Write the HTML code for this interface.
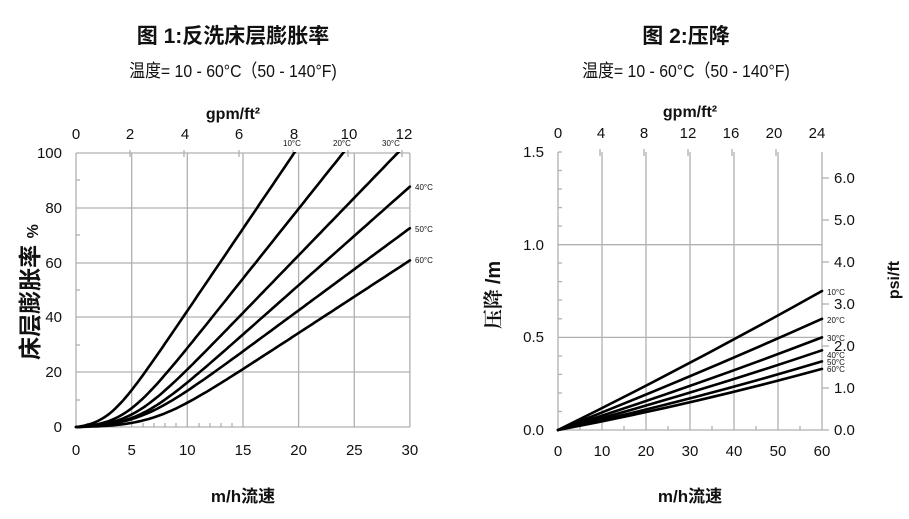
<!DOCTYPE html>
<html><head><meta charset="utf-8"><style>
body{margin:0;background:#fff}
svg{display:block}
text{font-family:"Liberation Sans","Noto Sans CJK SC",sans-serif;fill:#111}
.t{font-size:15px;fill:#222}
.s{font-size:8px;fill:#222}
.c{fill:none;stroke:#000;stroke-width:2.6;stroke-linejoin:round;stroke-linecap:round}
.g{stroke:#b0b0b0;stroke-width:1.3}
</style></head><body>
<svg width="909" height="519" viewBox="0 0 909 519">
<defs><clipPath id="cp"><rect x="70" y="152" width="345" height="280"/></clipPath></defs>
<text x="233" y="43" font-size="21" font-weight="bold" text-anchor="middle">图 1:反洗床层膨胀率</text>
<text x="233" y="77" font-size="18" text-anchor="middle" transform="translate(233 0) scale(0.88 1) translate(-233 0)">温度= 10 - 60°C（50 - 140°F)</text>
<text x="686" y="43" font-size="21" font-weight="bold" text-anchor="middle">图 2:压降</text>
<text x="686" y="77" font-size="18" text-anchor="middle" transform="translate(686 0) scale(0.88 1) translate(-686 0)">温度= 10 - 60°C（50 - 140°F)</text>

<g class="g">
<line x1="131.7" y1="153" x2="131.7" y2="427"/><line x1="187.3" y1="153" x2="187.3" y2="427"/><line x1="243" y1="153" x2="243" y2="427"/><line x1="298.6" y1="153" x2="298.6" y2="427"/><line x1="354.3" y1="153" x2="354.3" y2="427"/><line x1="409.9" y1="153" x2="409.9" y2="427"/>
<line x1="76" y1="153" x2="410" y2="153"/><line x1="76" y1="208" x2="410" y2="208"/><line x1="76" y1="263" x2="410" y2="263"/><line x1="76" y1="317" x2="410" y2="317"/><line x1="76" y1="372" x2="410" y2="372"/>
<line x1="76" y1="153" x2="76" y2="427"/><line x1="76" y1="427" x2="410" y2="427"/>
<line x1="76" y1="180" x2="80" y2="180"/><line x1="76" y1="235" x2="80" y2="235"/><line x1="76" y1="290" x2="80" y2="290"/><line x1="76" y1="345" x2="80" y2="345"/><line x1="76" y1="400" x2="80" y2="400"/>
<line x1="130" y1="150" x2="130" y2="157"/><line x1="184" y1="150" x2="184" y2="157"/><line x1="239" y1="150" x2="239" y2="157"/><line x1="293" y1="150" x2="293" y2="157"/><line x1="348" y1="150" x2="348" y2="157"/><line x1="402" y1="150" x2="402" y2="157"/>
<line x1="87" y1="427" x2="87" y2="423"/><line x1="98" y1="427" x2="98" y2="423"/><line x1="109" y1="427" x2="109" y2="423"/><line x1="121" y1="427" x2="121" y2="423"/><line x1="143" y1="427" x2="143" y2="423"/><line x1="154" y1="427" x2="154" y2="423"/><line x1="165" y1="427" x2="165" y2="423"/><line x1="176" y1="427" x2="176" y2="423"/><line x1="199" y1="427" x2="199" y2="423"/><line x1="210" y1="427" x2="210" y2="423"/><line x1="221" y1="427" x2="221" y2="423"/><line x1="232" y1="427" x2="232" y2="423"/>
</g>
<g class="t" text-anchor="end">
<text x="62" y="158">100</text><text x="62" y="213">80</text><text x="62" y="268">60</text><text x="62" y="322">40</text><text x="62" y="377">20</text><text x="62" y="432">0</text>
</g>
<g class="t" text-anchor="middle">
<text x="76" y="455">0</text><text x="131.7" y="455">5</text><text x="187.3" y="455">10</text><text x="243" y="455">15</text><text x="298.6" y="455">20</text><text x="354.3" y="455">25</text><text x="409.9" y="455">30</text>
<text x="76" y="139">0</text><text x="130" y="139">2</text><text x="185" y="139">4</text><text x="239" y="139">6</text><text x="294" y="139">8</text><text x="349" y="139">10</text><text x="404" y="139">12</text>
</g>
<text x="233" y="119" font-size="16" font-weight="bold" text-anchor="middle">gpm/ft²</text>
<text x="243" y="502" font-size="17" font-weight="bold" text-anchor="middle">m/h流速</text>
<text transform="translate(38 292) rotate(-90)" font-size="23" font-weight="bold" text-anchor="middle">床层膨胀率 <tspan font-size="16">%</tspan></text>
<g class="s">
<text x="283" y="146">10°C</text><text x="333" y="146">20°C</text><text x="382" y="146">30°C</text>
<text x="415" y="190">40°C</text><text x="415" y="232">50°C</text><text x="415" y="263">60°C</text>
</g>
<g id="L" clip-path="url(#cp)"></g>

<g class="g">
<line x1="602" y1="152" x2="602" y2="430"/><line x1="646" y1="152" x2="646" y2="430"/><line x1="690" y1="152" x2="690" y2="430"/><line x1="734" y1="152" x2="734" y2="430"/><line x1="778" y1="152" x2="778" y2="430"/><line x1="822" y1="152" x2="822" y2="430"/>
<line x1="558" y1="152" x2="558" y2="430"/><line x1="558" y1="430" x2="822" y2="430"/>
<line x1="558" y1="244.7" x2="822" y2="244.7"/><line x1="558" y1="337.4" x2="822" y2="337.4"/>
<line x1="558" y1="152" x2="562" y2="152"/>
<line x1="558" y1="189" x2="562" y2="189"/><line x1="558" y1="207.6" x2="562" y2="207.6"/><line x1="558" y1="226" x2="562" y2="226"/><line x1="558" y1="170.5" x2="562" y2="170.5"/>
<line x1="558" y1="263" x2="562" y2="263"/><line x1="558" y1="281.6" x2="562" y2="281.6"/><line x1="558" y1="300" x2="562" y2="300"/><line x1="558" y1="318.8" x2="562" y2="318.8"/>
<line x1="558" y1="356" x2="562" y2="356"/><line x1="558" y1="374.4" x2="562" y2="374.4"/><line x1="558" y1="393" x2="562" y2="393"/><line x1="558" y1="411.5" x2="562" y2="411.5"/>
<line x1="600" y1="149" x2="600" y2="156"/><line x1="644" y1="149" x2="644" y2="156"/><line x1="688" y1="149" x2="688" y2="156"/><line x1="732" y1="149" x2="732" y2="156"/><line x1="776" y1="149" x2="776" y2="156"/>
<line x1="580" y1="430" x2="580" y2="426"/><line x1="624" y1="430" x2="624" y2="426"/><line x1="668" y1="430" x2="668" y2="426"/><line x1="712" y1="430" x2="712" y2="426"/><line x1="756" y1="430" x2="756" y2="426"/><line x1="800" y1="430" x2="800" y2="426"/>
<line x1="822" y1="430" x2="829" y2="430"/><line x1="822" y1="388" x2="829" y2="388"/><line x1="822" y1="346" x2="829" y2="346"/><line x1="822" y1="304" x2="829" y2="304"/><line x1="822" y1="262" x2="829" y2="262"/><line x1="822" y1="220" x2="829" y2="220"/><line x1="822" y1="178" x2="829" y2="178"/>
</g>
<g class="t" text-anchor="end">
<text x="544" y="157">1.5</text><text x="544" y="250">1.0</text><text x="544" y="342">0.5</text><text x="544" y="435">0.0</text>
</g>
<g class="t" text-anchor="start">
<text x="834" y="435">0.0</text><text x="834" y="393">1.0</text><text x="834" y="351">2.0</text><text x="834" y="309">3.0</text><text x="834" y="267">4.0</text><text x="834" y="225">5.0</text><text x="834" y="183">6.0</text>
</g>
<g class="t" text-anchor="middle">
<text x="558" y="456">0</text><text x="602" y="456">10</text><text x="646" y="456">20</text><text x="690" y="456">30</text><text x="734" y="456">40</text><text x="778" y="456">50</text><text x="822" y="456">60</text>
<text x="558" y="138">0</text><text x="601" y="138">4</text><text x="644" y="138">8</text><text x="688" y="138">12</text><text x="731" y="138">16</text><text x="774" y="138">20</text><text x="817" y="138">24</text>
</g>
<text x="690" y="117" font-size="16" font-weight="bold" text-anchor="middle">gpm/ft²</text>
<text x="690" y="502" font-size="17" font-weight="bold" text-anchor="middle">m/h流速</text>
<text transform="translate(500 295) rotate(-90)" font-size="20" font-weight="bold" text-anchor="middle" style="font-family:'Noto Serif CJK SC','Liberation Sans',serif">压降 <tspan style="font-family:'Liberation Sans',sans-serif">/m</tspan></text>
<text transform="translate(899 280) rotate(-90)" font-size="16" font-weight="bold" text-anchor="middle">psi/ft</text>
<g class="s">
<text x="827" y="295">10°C</text><text x="827" y="323">20°C</text><text x="827" y="341">30°C</text>
<text x="827" y="358">40°C</text><text x="827" y="365">50°C</text><text x="827" y="372">60°C</text>
</g>
<path class="c" d="M558,430 Q690,365 822,291"/>
<path class="c" d="M558,430 Q690,378 822,318.8"/>
<path class="c" d="M558,430 Q690,388 822,337.4"/>
<path class="c" d="M558,430 Q690,395 822,350.3"/>
<path class="c" d="M558,430 Q690,401 822,361.4"/>
<path class="c" d="M558,430 Q690,405 822,368.9"/>
</svg>
<script>
// [slope, x0, s]
var P=[[6,2.83,1.2],[5.1,4.3,1.5],[4.2,5.0,1.7],[3.6,5.55,1.8],[3.0,5.7,2.0],[2.65,7.0,2.0]];
function sp(x,x0,s){return s*Math.log(1+Math.exp((x-x0)/s));}
var h='';
P.forEach(function(p){
 var base=sp(0,p[1],p[2]),d='';
 for(var x=0;x<=30.001;x+=0.25){
  var y=p[0]*(sp(x,p[1],p[2])-base);
  var px=76+11.13*x,py=427-2.74*y;
  d+=(d?' L':'M')+px.toFixed(1)+','+py.toFixed(1);
  if(y>101)break;
 }
 h+='<path class="c" d="'+d+'"/>';
});
document.getElementById('L').innerHTML=h;
</script>
</body></html>
